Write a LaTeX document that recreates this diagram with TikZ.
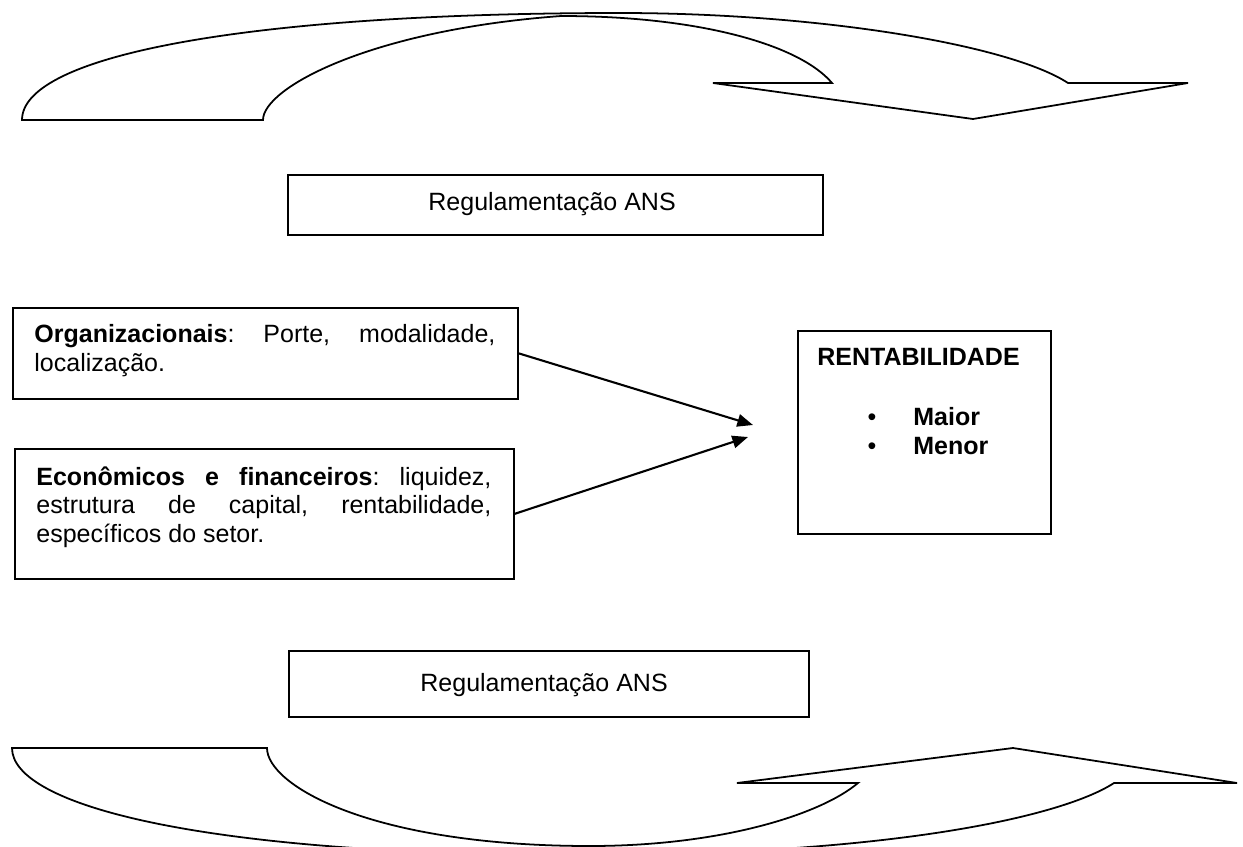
\documentclass[tikz,border=0pt]{standalone}
\usepackage{fontspec}
\setmainfont{Liberation Sans}
\usetikzlibrary{arrows.meta}
\hyphenpenalty=10000
\exhyphenpenalty=10000
\tolerance=10000
\pretolerance=10000
\frenchspacing
\begin{document}
\begin{tikzpicture}[x=0.48pt,y=-0.48pt,
  outline/.style={draw=black,line width=0.85pt,line join=miter},
  box/.style={draw=black,line width=0.8pt,inner sep=0pt,anchor=north west},
  txt/.style={inner sep=0pt,font=\fontsize{12pt}{13.8pt}\selectfont},
  boldtxt/.style={inner sep=0pt,font=\fontsize{12pt}{13.8pt}\selectfont\bfseries},
  para/.style={txt,anchor=north west,align=justify},
  link/.style={draw=black,line width=1pt,-{Triangle[length=7.5pt,width=6pt]}}]
\useasboundingbox (0,0) rectangle (1243,847);
\begin{scope}
\clip (0,0) rectangle (1243,847);
% top curved arrow
\draw[outline] (22,120) .. controls (22,55) and (250,13) .. (620,13)
  .. controls (820,13) and (1010,45) .. (1068,83) -- (1188,83) -- (973,119)
  -- (713,83) -- (832,83) .. controls (800,45) and (700,16) .. (561,16)
  .. controls (370,30) and (263,88) .. (263,120) -- cycle;
% bottom curved arrow
\draw[outline] (12,748) -- (267,748) .. controls (267,785) and (370,846) .. (590,846)
  .. controls (720,846) and (820,815) .. (858,783) -- (737,783) -- (1013,748)
  -- (1237,783) -- (1114,783) .. controls (1065,815) and (900,855) .. (580,855)
  .. controls (200,855) and (12,805) .. (12,748) -- cycle;
\end{scope}
% boxes
\node[box,minimum width=256.8pt,minimum height=28.8pt] (ans1) at (287,174) {};
\node[txt,anchor=base west] (ans1t) at (428,210) {Regulamentação ANS};
\node[box,minimum width=242.4pt,minimum height=43.68pt] (org) at (12,307) {};
\node[para,text width=221.28pt] (orgt) at (34,324)
  {\textbf{Organizacionais}: Porte, modalidade, localização.};
\node[box,minimum width=239.52pt,minimum height=62.4pt] (eco) at (14,448) {};
\node[para,text width=218.4pt] (ecot) at (36,466)
  {\textbf{Econômicos e financeiros}: liquidez, estrutura de capital, rentabilidade, específicos do setor.};
\node[box,minimum width=121.44pt,minimum height=97.44pt] (rent) at (797,330) {};
\node[boldtxt,anchor=base west] (rentt) at (817,365) {RENTABILIDADE};
\node[txt,anchor=base] (b1) at (872,425) {•};
\node[boldtxt,anchor=base west] (maior) at (913,425) {Maior};
\node[txt,anchor=base] (b2) at (872,454) {•};
\node[boldtxt,anchor=base west] (menor) at (913,454) {Menor};
\node[box,minimum width=249.6pt,minimum height=31.68pt] (ans2) at (288,650) {};
\node[txt,anchor=base west] (ans2t) at (420,691) {Regulamentação ANS};
% connectors
\coordinate (t1) at (753,425);
\coordinate (t2) at (748,437);
\draw[link] (org.east) -- (t1);
\draw[link] (eco.east) -- (t2);
\end{tikzpicture}
\end{document}
